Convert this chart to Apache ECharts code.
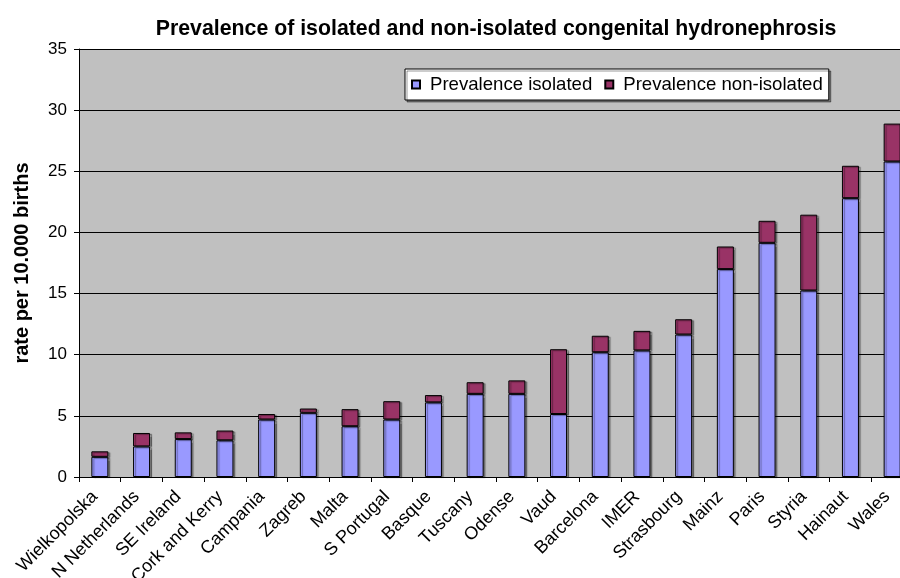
<!DOCTYPE html>
<html>
<head>
<meta charset="utf-8">
<script src="https://cdn.jsdelivr.net/npm/echarts@6/dist/echarts.min.js"></script>
<style>
  html, body { margin: 0; padding: 0; background: #fff; }
  #wrap { width: 900px; height: 578px; overflow: hidden; position: relative; }
  /* the original picture is cut off on the right, through the last bar */
  #chart { position: absolute; left: 0; top: 0; width: 913px; height: 578px; }
</style>
</head>
<body>
<div id="wrap"><div id="chart"></div></div>
<script>
// regions, sorted by total prevalence
const regions = ['Wielkopolska', 'N Netherlands', 'SE Ireland', 'Cork and Kerry', 'Campania',
  'Zagreb', 'Malta', 'S Portugal', 'Basque', 'Tuscany', 'Odense', 'Vaud', 'Barcelona',
  'IMER', 'Strasbourg', 'Mainz', 'Paris', 'Styria', 'Hainaut', 'Wales'];
// rate per 10.000 births
const isolated = [1.65, 2.5, 3.1, 3.0, 4.7, 5.25, 4.15, 4.7, 6.1, 6.8, 6.8, 5.15, 10.2,
  10.35, 11.65, 17.0, 19.15, 15.25, 22.8, 25.8];
const nonIsolated = [0.45, 1.1, 0.55, 0.8, 0.45, 0.35, 1.4, 1.5, 0.6, 0.95, 1.1, 5.3, 1.35,
  1.6, 1.25, 1.85, 1.8, 6.2, 2.65, 3.1];
const yTicks = [0, 5, 10, 15, 20, 25, 30, 35];

const font = '"Liberation Sans", Arial, sans-serif';

const barStyle = (color) => ({
  color: color,
  borderColor: '#000',
  borderWidth: 1,
  shadowColor: 'rgba(0,0,0,0.35)',
  shadowOffsetX: 2,
  shadowOffsetY: 1,
  shadowBlur: 1
});

const chart = echarts.init(document.getElementById('chart'));

chart.setOption({
  animation: false,
  textStyle: { fontFamily: font, color: '#000' },
  title: {
    text: 'Prevalence of isolated and non-isolated congenital hydronephrosis',
    left: 491,
    top: 14,
    textAlign: 'center',
    textStyle: { fontFamily: font, fontSize: 21.3, fontWeight: 'bold', color: '#000' }
  },
  legend: {
    data: ['Prevalence isolated', 'Prevalence non-isolated'],
    left: 405,
    top: 69,
    backgroundColor: '#fff',
    borderColor: '#000',
    borderWidth: 1,
    borderRadius: 0,
    padding: [6, 6, 6, 6],
    itemGap: 12,
    itemWidth: 8,
    itemHeight: 8,
    icon: 'rect',
    shadowColor: 'rgba(0,0,0,0.4)',
    shadowOffsetX: 2,
    shadowOffsetY: 2,
    textStyle: { fontFamily: font, fontSize: 18.6, color: '#000', padding: [0, 0, 0, 5] }
  },
  grid: {
    left: 79,
    right: 0,
    top: 49,
    bottom: 101,
    outerBoundsMode: 'none',
    show: true,
    backgroundColor: '#c0c0c0',
    borderWidth: 0
  },
  xAxis: {
    type: 'category',
    data: regions,
    axisLine: { lineStyle: { color: '#000', width: 1 } },
    axisTick: { show: true, length: 5, lineStyle: { color: '#000' } },
    axisLabel: {
      rotate: 45,
      interval: 0,
      margin: 12,
      padding: [0, 7, 14, 0],
      fontFamily: font,
      fontSize: 18,
      color: '#000'
    }
  },
  yAxis: {
    type: 'value',
    min: yTicks[0],
    max: yTicks[yTicks.length - 1],
    interval: 5,
    name: 'rate per 10.000 births',
    nameLocation: 'middle',
    nameGap: 47,
    nameTextStyle: { fontFamily: font, fontSize: 20, fontWeight: 'bold', color: '#000' },
    axisLine: { show: true, lineStyle: { color: '#000', width: 1 } },
    axisTick: { show: true, length: 5, lineStyle: { color: '#000' } },
    axisLabel: { fontFamily: font, fontSize: 17, color: '#000', margin: 12 },
    splitLine: { show: true, lineStyle: { color: '#000', width: 1 } }
  },
  series: [
    {
      name: 'Prevalence isolated',
      type: 'bar',
      stack: 'total',
      barWidth: 17,
      data: isolated,
      itemStyle: barStyle('#9999ff')
    },
    {
      name: 'Prevalence non-isolated',
      type: 'bar',
      stack: 'total',
      barWidth: 17,
      data: nonIsolated,
      itemStyle: barStyle('#993366')
    }
  ]
});
</script>
</body>
</html>
